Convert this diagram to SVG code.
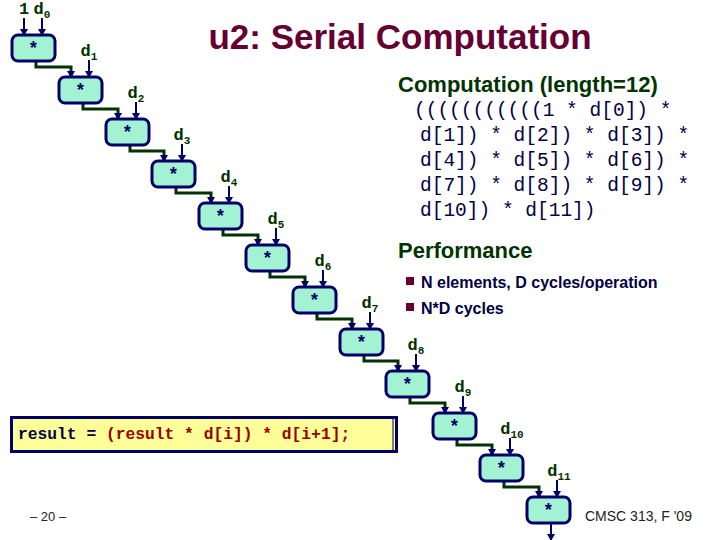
<svg xmlns="http://www.w3.org/2000/svg" width="720" height="540" viewBox="0 0 720 540">
<style>
.node{fill:#a4f2d4;stroke:#000066;stroke-width:3}
.star{font-family:"Liberation Mono",monospace;font-weight:bold;font-size:18px;fill:#000066;text-anchor:middle}
.lbl{font-family:"Liberation Mono",monospace;font-weight:bold;font-size:17px;fill:#003300;text-anchor:middle}
.in{stroke:#000066;stroke-width:2;fill:none;marker-end:url(#ah)}
.cn{stroke:#003300;stroke-width:3;fill:none;marker-end:url(#ah)}
.mono{font-family:"Liberation Mono",monospace;font-size:19.5px;fill:#000044}
.bul{font-family:"Liberation Sans",Arial,sans-serif;font-weight:bold;font-size:16px;fill:#000044}
</style>
<defs>
<marker id="ah" markerWidth="8" markerHeight="8" refX="6" refY="4" orient="auto" markerUnits="userSpaceOnUse"><path d="M0,0 L7,4 L0,8 z" fill="#000066"/></marker>
</defs>
<rect width="720" height="540" fill="#fff"/>
<text x="400" y="49" text-anchor="middle" font-family="Liberation Sans,Arial,sans-serif" font-weight="bold" font-size="35" fill="#660033">u2: Serial Computation</text>
<text x="398" y="92" font-family="Liberation Sans,Arial,sans-serif" font-weight="bold" font-size="22" fill="#003300">Computation (length=12)</text>
<g class="mono">
<text x="414" y="116">(((((((((((1 * d[0]) *</text>
<text x="420" y="141">d[1]) * d[2]) * d[3]) *</text>
<text x="420" y="166">d[4]) * d[5]) * d[6]) *</text>
<text x="420" y="191">d[7]) * d[8]) * d[9]) *</text>
<text x="420" y="216">d[10]) * d[11])</text>
</g>
<text x="398" y="258" font-family="Liberation Sans,Arial,sans-serif" font-weight="bold" font-size="22" fill="#003300">Performance</text>
<rect x="406" y="277" width="8" height="8" fill="#660033"/>
<text class="bul" x="421" y="288">N elements, D cycles/operation</text>
<rect x="406" y="303" width="8" height="8" fill="#660033"/>
<text class="bul" x="421" y="314">N*D cycles</text>
<g id="code">
<rect x="11.5" y="417.5" width="385" height="34" fill="#ffff99" stroke="#000066" stroke-width="3"/>
<line x1="393" y1="419" x2="393" y2="450" stroke="#000066" stroke-width="1"/>
<text x="18" y="439" font-family="Liberation Mono,monospace" font-weight="bold" font-size="16.3" fill="#000044">result = <tspan fill="#990000">(result * d[i]) * d[i+1];</tspan></text>
</g>
<text x="30" y="521" font-family="Liberation Sans,Arial,sans-serif" font-size="13" fill="#222">– 20 –</text>
<text x="585" y="521" font-family="Liberation Sans,Arial,sans-serif" font-size="14" fill="#222">CMSC 313, F '09</text>
<g id="connectors">
<path class="in" d="M24,18 V35"/>
<path class="in" d="M42,18 V35"/>
<path class="in" d="M89,60 V77"/>
<path class="in" d="M136,102 V119"/>
<path class="in" d="M182,144 V161"/>
<path class="in" d="M229,186 V203"/>
<path class="in" d="M276,228 V245"/>
<path class="in" d="M323,270 V287"/>
<path class="in" d="M370,312 V329"/>
<path class="in" d="M416,354 V371"/>
<path class="in" d="M463,396 V413"/>
<path class="in" d="M510,438 V455"/>
<path class="in" d="M557,480 V497"/>
<path class="cn" d="M36,61 V67 H71 V77"/>
<path class="cn" d="M83,103 V109 H118 V119"/>
<path class="cn" d="M130,145 V151 H164 V161"/>
<path class="cn" d="M176,187 V193 H211 V203"/>
<path class="cn" d="M223,229 V235 H258 V245"/>
<path class="cn" d="M270,271 V277 H305 V287"/>
<path class="cn" d="M317,313 V319 H352 V329"/>
<path class="cn" d="M364,355 V361 H398 V371"/>
<path class="cn" d="M410,397 V403 H445 V413"/>
<path class="cn" d="M457,439 V445 H492 V455"/>
<path class="cn" d="M504,481 V487 H539 V497"/>
<path class="in" d="M551,523 V540"/>
</g>
<g id="labels">
<text class="lbl" x="24" y="14">1</text>
<text class="lbl" x="42" y="14">d<tspan font-size="11" dy="4">0</tspan></text>
<text class="lbl" x="89" y="56">d<tspan font-size="11" dy="4">1</tspan></text>
<text class="lbl" x="136" y="98">d<tspan font-size="11" dy="4">2</tspan></text>
<text class="lbl" x="182" y="140">d<tspan font-size="11" dy="4">3</tspan></text>
<text class="lbl" x="229" y="182">d<tspan font-size="11" dy="4">4</tspan></text>
<text class="lbl" x="276" y="224">d<tspan font-size="11" dy="4">5</tspan></text>
<text class="lbl" x="323" y="266">d<tspan font-size="11" dy="4">6</tspan></text>
<text class="lbl" x="370" y="308">d<tspan font-size="11" dy="4">7</tspan></text>
<text class="lbl" x="416" y="350">d<tspan font-size="11" dy="4">8</tspan></text>
<text class="lbl" x="463" y="392">d<tspan font-size="11" dy="4">9</tspan></text>
<text class="lbl" x="512" y="434">d<tspan font-size="11" dy="4">10</tspan></text>
<text class="lbl" x="559" y="476">d<tspan font-size="11" dy="4">11</tspan></text>
</g>
<g id="n0"><rect class="node" x="12" y="35" width="43" height="26" rx="6"/><text class="star" x="33.5" y="54">*</text></g>
<g id="n1"><rect class="node" x="59" y="77" width="43" height="26" rx="6"/><text class="star" x="80.5" y="96">*</text></g>
<g id="n2"><rect class="node" x="106" y="119" width="43" height="26" rx="6"/><text class="star" x="127.5" y="138">*</text></g>
<g id="n3"><rect class="node" x="152" y="161" width="43" height="26" rx="6"/><text class="star" x="173.5" y="180">*</text></g>
<g id="n4"><rect class="node" x="199" y="203" width="43" height="26" rx="6"/><text class="star" x="220.5" y="222">*</text></g>
<g id="n5"><rect class="node" x="246" y="245" width="43" height="26" rx="6"/><text class="star" x="267.5" y="264">*</text></g>
<g id="n6"><rect class="node" x="293" y="287" width="43" height="26" rx="6"/><text class="star" x="314.5" y="306">*</text></g>
<g id="n7"><rect class="node" x="340" y="329" width="43" height="26" rx="6"/><text class="star" x="361.5" y="348">*</text></g>
<g id="n8"><rect class="node" x="386" y="371" width="43" height="26" rx="6"/><text class="star" x="407.5" y="390">*</text></g>
<g id="n9"><rect class="node" x="433" y="413" width="43" height="26" rx="6"/><text class="star" x="454.5" y="432">*</text></g>
<g id="n10"><rect class="node" x="480" y="455" width="43" height="26" rx="6"/><text class="star" x="501.5" y="474">*</text></g>
<g id="n11"><rect class="node" x="527" y="497" width="43" height="26" rx="6"/><text class="star" x="548.5" y="516">*</text></g>
</svg>
